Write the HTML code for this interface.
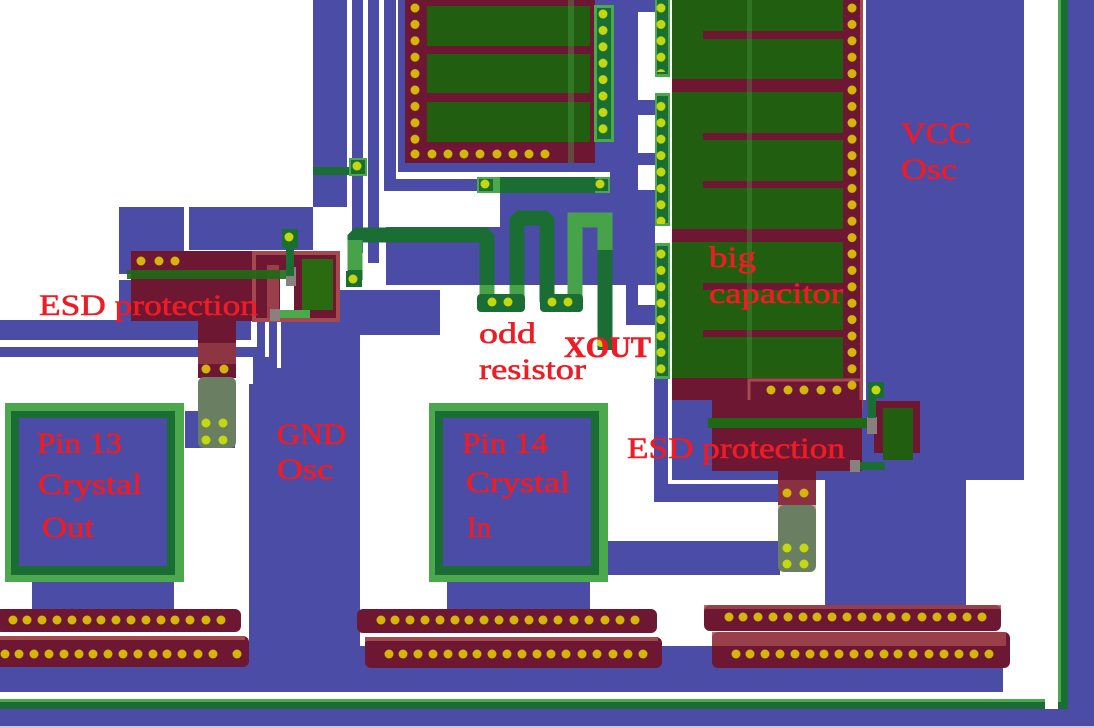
<!DOCTYPE html>
<html><head><meta charset="utf-8"><style>
html,body{margin:0;padding:0;background:#fff;}
svg{display:block}
text{font-family:"Liberation Serif",serif;fill:#ee1c24;font-size:30px;stroke:#ee1c24;stroke-width:0.6px;}
</style></head><body>
<svg width="1094" height="728" viewBox="0 0 1094 728" xmlns="http://www.w3.org/2000/svg">
<defs>
<pattern id="d415" x="410" y="0" width="10" height="16.4" patternUnits="userSpaceOnUse"><circle cx="5" cy="8" r="4.5" fill="#d4b60a"/></pattern>
<pattern id="d603" x="598" y="6" width="10" height="16.4" patternUnits="userSpaceOnUse"><circle cx="5" cy="8" r="4.5" fill="#c3d80e"/></pattern>
<pattern id="d661" x="656" y="0" width="10" height="16.4" patternUnits="userSpaceOnUse"><circle cx="5" cy="8" r="4.5" fill="#c3d80e"/></pattern>
<pattern id="d852" x="847" y="0" width="10" height="16.4" patternUnits="userSpaceOnUse"><circle cx="5" cy="8" r="4.5" fill="#d4b60a"/></pattern>
</defs>
<rect width="1094" height="728" fill="#fff"/>
<g fill="#4b4ca6">
<rect x="313" y="0" width="34" height="207"/>
<rect x="352" y="0" width="11" height="253"/>
<rect x="368" y="0" width="11" height="263"/>
<rect x="384" y="0" width="12" height="191"/>
<rect x="384" y="179" width="116" height="12"/>
<rect x="398" y="0" width="232" height="172"/>
<rect x="626" y="0" width="12" height="325"/>
<rect x="626" y="0" width="29" height="12"/>
<rect x="626" y="100" width="29" height="15"/>
<rect x="626" y="153" width="29" height="12"/>
<rect x="610" y="172" width="20" height="20"/>
<rect x="626" y="305" width="29" height="20"/>
<rect x="119" y="207" width="65" height="67"/>
<rect x="189" y="207" width="124" height="43"/>
<rect x="119" y="280" width="15" height="40"/>
<rect x="0" y="320" width="251" height="20"/>
<rect x="0" y="347" width="265" height="10"/>
<rect x="253" y="262" width="41" height="123"/>
<rect x="280" y="290" width="160" height="45"/>
<rect x="294" y="335" width="66" height="50"/>
<rect x="249" y="384" width="111" height="262"/>
<rect x="386" y="227" width="269" height="58"/>
<rect x="500" y="190" width="155" height="37"/>
<rect x="185" y="411" width="50" height="37"/>
<rect x="32" y="580" width="142" height="30"/>
<rect x="447" y="580" width="143" height="30"/>
<rect x="590" y="541" width="190" height="34"/>
<rect x="654" y="378" width="18" height="124"/>
<rect x="654" y="484" width="126" height="18"/>
<rect x="672" y="400" width="153" height="80"/>
<rect x="866" y="0" width="158" height="480"/>
<rect x="825" y="400" width="141" height="205"/>
<rect x="0" y="646" width="1003" height="46"/>
<rect x="347" y="576" width="10" height="70"/>
<rect x="0" y="709" width="1094" height="17"/>
<rect x="1068" y="0" width="26" height="728"/>
</g>
<g fill="#fff">
<rect x="668" y="378" width="4" height="106"/>
<rect x="253" y="262" width="4" height="85"/>
<rect x="265" y="262" width="4" height="95"/>
<rect x="277" y="270" width="4" height="98"/>
<rect x="0" y="340" width="253" height="7"/>
</g>
<rect x="0" y="699" width="1045" height="10" fill="#1a6e33"/>
<rect x="0" y="699" width="1045" height="3" fill="#4ca84c"/>
<rect x="1058" y="0" width="10" height="709" fill="#1a6e33"/>
<rect x="1058" y="0" width="3" height="702" fill="#4ca84c"/>
<rect x="0" y="726" width="1094" height="2" fill="#ccc"/>

<rect x="405" y="0" width="190" height="163" fill="#6e1733"/>
<rect x="427" y="6" width="163" height="40" fill="#215e10"/>
<rect x="427" y="54" width="163" height="39" fill="#215e10"/>
<rect x="427" y="102" width="163" height="40" fill="#215e10"/>
<rect x="568" y="0" width="6" height="163" fill="#4ca84c" opacity=".35"/>
<rect x="410" y="0" width="10" height="145" fill="url(#d415)"/>
<g fill="#d4b60a"><circle cx="415" cy="154" r="4.5"/><circle cx="432" cy="154" r="4.5"/><circle cx="448" cy="154" r="4.5"/><circle cx="464" cy="154" r="4.5"/><circle cx="480" cy="154" r="4.5"/><circle cx="497" cy="154" r="4.5"/><circle cx="513" cy="154" r="4.5"/><circle cx="529" cy="154" r="4.5"/><circle cx="545" cy="154" r="4.5"/></g>
<rect x="594" y="5" width="20" height="137" fill="#4ca84c"/>
<rect x="597" y="8" width="14" height="131" fill="#1a6e33"/>
<rect x="598" y="6" width="10" height="132" fill="url(#d603)"/>

<rect x="672" y="0" width="171" height="378" fill="#215e10"/>
<g fill="#6e1733">
<rect x="703" y="31" width="140" height="8"/>
<rect x="672" y="79" width="171" height="13"/>
<rect x="703" y="133" width="140" height="7"/>
<rect x="703" y="181" width="140" height="7"/>
<rect x="672" y="229" width="171" height="13"/>
<rect x="703" y="283" width="140" height="7"/>
<rect x="703" y="330" width="140" height="7"/>
<rect x="843" y="0" width="17" height="400"/>
<rect x="672" y="378" width="190" height="22"/>
</g>
<rect x="747" y="0" width="5" height="378" fill="#4ca84c" opacity=".3"/>
<rect x="860" y="0" width="3" height="408" fill="#a44a4f"/>
<rect x="749" y="380" width="112" height="28" fill="none" stroke="#a44a4f" stroke-width="3"/>
<rect x="847" y="0" width="10" height="396" fill="url(#d852)"/>
<g fill="#d4b60a"><circle cx="771" cy="390" r="4.5"/><circle cx="788" cy="390" r="4.5"/><circle cx="804" cy="390" r="4.5"/><circle cx="821" cy="390" r="4.5"/><circle cx="837" cy="390" r="4.5"/></g>
<g>
<rect x="655" y="0" width="15" height="77" fill="#4ca84c"/><rect x="657" y="0" width="11" height="74" fill="#1a6e33"/>
<rect x="655" y="93" width="15" height="133" fill="#4ca84c"/><rect x="657" y="96" width="11" height="127" fill="#1a6e33"/>
<rect x="655" y="243" width="15" height="136" fill="#4ca84c"/><rect x="657" y="246" width="11" height="130" fill="#1a6e33"/>
<rect x="656" y="0" width="10" height="72" fill="url(#d661)"/>
<rect x="656" y="98" width="10" height="126" fill="url(#d661)"/>
<rect x="656" y="246" width="10" height="130" fill="url(#d661)"/>
</g>

<rect x="131" y="251" width="208" height="70" fill="#6e1733"/>
<rect x="198" y="321" width="38" height="55" fill="#6e1733"/>
<rect x="198" y="343" width="38" height="30" fill="#a44a4f" opacity=".6"/>
<rect x="254" y="253" width="84" height="67" fill="none" stroke="#a44a4f" stroke-width="4"/>
<rect x="280" y="270" width="14" height="42" fill="#fff"/>
<rect x="267" y="265" width="12" height="55" fill="#a44a4f" opacity=".8"/>
<g fill="#d4b60a"><circle cx="141" cy="261" r="4.5"/><circle cx="159" cy="261" r="4.5"/><circle cx="175" cy="261" r="4.5"/></g>
<rect x="127" y="270" width="160" height="9" fill="#1e6a14" opacity=".9"/>
<rect x="302" y="259" width="31" height="51" fill="#2a6a10"/>
<rect x="286" y="267" width="10" height="19" fill="#8a8080"/>
<rect x="282" y="229" width="16" height="19" fill="#1a6e33"/>
<rect x="286" y="246" width="8" height="30" fill="#1a6e33"/>
<circle cx="289" cy="237" r="4.5" fill="#c3d80e"/>
<rect x="270" y="310" width="40" height="8" fill="#4ca84c"/>
<rect x="270" y="309" width="10" height="12" fill="#8a8080"/>
<rect x="313" y="167" width="40" height="8" fill="#1a6e33"/>
<rect x="349" y="158" width="18" height="18" fill="#4ca84c"/><rect x="351" y="160" width="14" height="14" fill="#1a6e33"/>
<circle cx="357" cy="166" r="4.5" fill="#c3d80e"/>
<rect x="198" y="364" width="38" height="14" fill="#6e1733"/>
<circle cx="206" cy="369" r="4.5" fill="#d4b60a"/><circle cx="224" cy="369" r="4.5" fill="#d4b60a"/>
<rect x="198" y="377" width="38" height="71" rx="6" fill="#6a7f62"/>
<g fill="#c3d80e"><circle cx="206" cy="423" r="4.5"/><circle cx="223" cy="423" r="4.5"/><circle cx="206" cy="440" r="4.5"/><circle cx="223" cy="440" r="4.5"/></g>

<g fill="none" stroke="#1a6e33" stroke-width="15" stroke-linejoin="bevel">
<polyline points="355,280 355,235 487,235 487,302"/>
<polyline points="517,302 517,218 547,218 547,302"/>
<polyline points="575,302 575,220 605,220 605,350"/>
</g>
<g fill="none" stroke="#4ca84c" stroke-width="15" opacity=".9">
<polyline points="355,270 355,240"/>
<polyline points="575,300 575,220 605,220 605,250"/>
<polyline points="487,285 487,302"/>
<polyline points="517,285 517,302"/>
</g>
<rect x="346" y="271" width="16" height="16" fill="#1a6e33"/><circle cx="353" cy="279" r="4.5" fill="#c3d80e"/>
<rect x="477" y="294" width="48" height="18" rx="4" fill="#1a6e33"/>
<rect x="540" y="294" width="43" height="18" rx="4" fill="#1a6e33"/>
<g fill="#c3d80e"><circle cx="492" cy="302" r="4.5"/><circle cx="508" cy="302" r="4.5"/><circle cx="552" cy="302" r="4.5"/><circle cx="568" cy="302" r="4.5"/><circle cx="601" cy="343" r="4"/></g>
<rect x="477" y="177" width="133" height="16" fill="#4ca84c"/>
<rect x="500" y="177" width="95" height="16" fill="#1a6e33"/>
<rect x="479" y="179" width="14" height="12" fill="#1a6e33"/><rect x="593" y="179" width="15" height="12" fill="#1a6e33"/>
<circle cx="485" cy="184" r="4.5" fill="#c3d80e"/><circle cx="600" cy="184" r="4.5" fill="#c3d80e"/>

<rect x="712" y="400" width="150" height="71" fill="#6e1733"/>
<rect x="778" y="471" width="38" height="34" fill="#6e1733"/>
<rect x="778" y="480" width="38" height="30" fill="#a44a4f" opacity=".5"/>
<circle cx="787" cy="493" r="4.5" fill="#d4b60a"/><circle cx="804" cy="493" r="4.5" fill="#d4b60a"/>
<rect x="778" y="505" width="38" height="67" rx="6" fill="#6a7f62"/>
<g fill="#c3d80e"><circle cx="787" cy="548" r="4.5"/><circle cx="804" cy="548" r="4.5"/><circle cx="787" cy="564" r="4.5"/><circle cx="804" cy="564" r="4.5"/></g>
<rect x="708" y="418" width="170" height="10" fill="#1e6a14"/>
<rect x="874" y="401" width="46" height="52" fill="#6e1733"/>
<rect x="883" y="408" width="30" height="52" fill="#215e10"/>
<rect x="867" y="417" width="10" height="17" fill="#8a8080"/>
<rect x="850" y="460" width="10" height="12" fill="#8a8080"/>
<rect x="860" y="462" width="25" height="8" fill="#1a6e33"/>
<rect x="868" y="382" width="16" height="16" fill="#1a6e33"/><circle cx="876" cy="390" r="4.5" fill="#c3d80e"/>
<rect x="868" y="398" width="8" height="20" fill="#1a6e33"/>

<rect x="5" y="403" width="179" height="179" fill="#4ca84c"/>
<rect x="11" y="411" width="164" height="164" fill="#1a6e33"/>
<rect x="19" y="418" width="148" height="148" fill="#4b4ca6"/>
<rect x="429" y="403" width="179" height="179" fill="#4ca84c"/>
<rect x="435" y="411" width="164" height="164" fill="#1a6e33"/>
<rect x="443" y="418" width="148" height="148" fill="#4b4ca6"/>

<g fill="#6e1733">
<rect x="-5" y="609" width="246" height="23" rx="6"/>
<rect x="-5" y="636" width="254" height="31" rx="6"/>
<rect x="357" y="609" width="300" height="24" rx="6"/>
<rect x="365" y="637" width="297" height="31" rx="6"/>
<rect x="704" y="605" width="297" height="26" rx="6"/>
<rect x="712" y="632" width="298" height="36" rx="6"/>
</g>
<g fill="#a44a4f">
<rect x="0" y="636" width="245" height="4"/>
<rect x="365" y="637" width="293" height="4"/>
<rect x="712" y="632" width="294" height="14" opacity=".8"/>
<rect x="704" y="605" width="297" height="4" opacity=".8"/>
</g>
<g fill="#d4b60a">
<g id="r1"><circle cx="13" cy="620" r="4.5"/><circle cx="27" cy="620" r="4.5"/><circle cx="42" cy="620" r="4.5"/><circle cx="57" cy="620" r="4.5"/><circle cx="72" cy="620" r="4.5"/><circle cx="87" cy="620" r="4.5"/><circle cx="101" cy="620" r="4.5"/><circle cx="116" cy="620" r="4.5"/><circle cx="131" cy="620" r="4.5"/><circle cx="146" cy="620" r="4.5"/><circle cx="161" cy="620" r="4.5"/><circle cx="175" cy="620" r="4.5"/><circle cx="190" cy="620" r="4.5"/><circle cx="206" cy="620" r="4.5"/><circle cx="221" cy="620" r="4.5"/></g>
<use href="#r1" x="-8" y="34"/><use href="#r1" x="368" y="0"/><use href="#r1" x="376" y="34"/><use href="#r1" x="716" y="-3"/><use href="#r1" x="723" y="34"/>
<circle cx="237" cy="654" r="4.5"/><circle cx="605" cy="620" r="4.5"/><circle cx="620" cy="620" r="4.5"/><circle cx="635" cy="620" r="4.5"/><circle cx="613" cy="654" r="4.5"/><circle cx="628" cy="654" r="4.5"/><circle cx="643" cy="654" r="4.5"/>
<circle cx="952" cy="617" r="4.5"/><circle cx="967" cy="617" r="4.5"/><circle cx="982" cy="617" r="4.5"/><circle cx="959" cy="654" r="4.5"/><circle cx="974" cy="654" r="4.5"/><circle cx="989" cy="654" r="4.5"/>
</g>

<text x="39" y="315" textLength="219" lengthAdjust="spacingAndGlyphs">ESD protection</text>
<text x="627" y="458" textLength="218" lengthAdjust="spacingAndGlyphs">ESD protection</text>
<text x="479" y="343" textLength="57" lengthAdjust="spacingAndGlyphs">odd</text>
<text x="479" y="379" textLength="107" lengthAdjust="spacingAndGlyphs">resistor</text>
<text x="564" y="357" textLength="87" lengthAdjust="spacingAndGlyphs" font-weight="bold">XOUT</text>
<text x="709" y="267" textLength="47" lengthAdjust="spacingAndGlyphs">big</text>
<text x="709" y="303" textLength="134" lengthAdjust="spacingAndGlyphs">capacitor</text>
<text x="901" y="143" textLength="70" lengthAdjust="spacingAndGlyphs">VCC</text>
<text x="901" y="179" textLength="56" lengthAdjust="spacingAndGlyphs">Osc</text>
<text x="277" y="444" textLength="69" lengthAdjust="spacingAndGlyphs">GND</text>
<text x="277" y="479" textLength="56" lengthAdjust="spacingAndGlyphs">Osc</text>
<text x="37" y="453" textLength="85" lengthAdjust="spacingAndGlyphs">Pin 13</text>
<text x="38" y="494" textLength="104" lengthAdjust="spacingAndGlyphs">Crystal</text>
<text x="42" y="537" textLength="52" lengthAdjust="spacingAndGlyphs">Out</text>
<text x="462" y="453" textLength="86" lengthAdjust="spacingAndGlyphs">Pin 14</text>
<text x="466" y="492" textLength="104" lengthAdjust="spacingAndGlyphs">Crystal</text>
<text x="467" y="537" textLength="24" lengthAdjust="spacingAndGlyphs">In</text>
</svg>
</body></html>
